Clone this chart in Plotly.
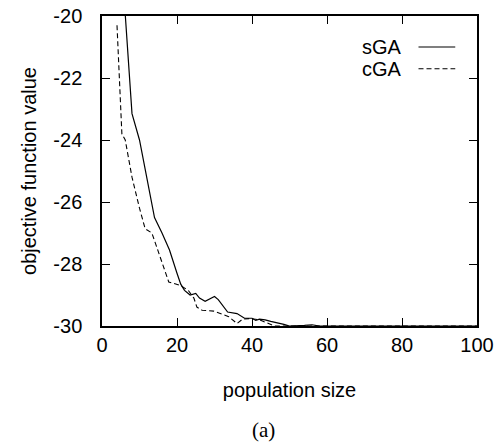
import plotly.graph_objects as go

# sGA (solid) estimated values
sga_x = [6, 8, 10, 12, 14, 16, 18, 20, 21, 22, 23.5, 25, 26, 27.5, 29, 30, 31, 32, 33.5, 36, 38, 40, 41, 42, 43.5, 45, 47, 48.5, 50, 52, 54, 56, 58, 60, 100]
sga_y = [-19.6, -23.15, -24.0, -25.3, -26.5, -27.0, -27.55, -28.3, -28.65, -28.85, -29.0, -28.95, -29.1, -29.2, -29.1, -29.05, -29.15, -29.3, -29.55, -29.6, -29.75, -29.75, -29.82, -29.78, -29.8, -29.85, -29.9, -29.95, -30, -30, -29.98, -29.96, -30, -30, -30]

# cGA (dashed) estimated values
cga_x = [4, 5.3, 6.2, 8, 10, 11.5, 13.3, 15, 17.8, 19, 21, 23, 24.5, 25.3, 26.7, 29.8, 31.5, 33.8, 36, 37.5, 39.5, 42, 44, 46, 100]
cga_y = [-20.3, -23.8, -24.0, -25.2, -26.2, -26.86, -27.0, -27.6, -28.58, -28.62, -28.7, -28.85, -29.1, -29.39, -29.49, -29.52, -29.6, -29.7, -29.92, -29.78, -29.76, -29.8, -29.9, -30, -30]

x_ticks = [0, 20, 40, 60, 80, 100]
y_ticks = [-30, -28, -26, -24, -22, -20]

font_sans = "Liberation Sans, Arial, sans-serif"

fig = go.Figure()
fig.add_trace(go.Scatter(x=sga_x, y=sga_y, mode="lines", name="sGA",
                         line=dict(color="black", width=1.2)))
fig.add_trace(go.Scatter(x=cga_x, y=cga_y, mode="lines", name="cGA",
                         line=dict(color="black", width=1.1, dash="5px,3px")))

axis_common = dict(showgrid=False, zeroline=False, showline=True, linecolor="black",
                   linewidth=1.5, mirror="ticks", ticks="inside", ticklen=8,
                   tickcolor="black", tickwidth=1.2, automargin=False,
                   ticklabeloverflow="allow",
                   tickfont=dict(family=font_sans, size=20, color="black"))

fig.update_xaxes(range=[0, 100], tickvals=x_ticks, ticktext=[str(v) for v in x_ticks],
                 title=dict(text="population size", font=dict(family=font_sans, size=20, color="black"), standoff=28),
                 ticklabelstandoff=0, **axis_common)
fig.update_yaxes(range=[-30, -20], tickvals=y_ticks, ticktext=[str(v) for v in y_ticks],
                 title=dict(text="objective function value", font=dict(family=font_sans, size=20, color="black"), standoff=11),
                 ticklabelstandoff=14, **axis_common)

# legend drawn as text + sample lines (text left, sample right, as in the reference)
fig.add_annotation(xref="paper", yref="paper", x=0.804, y=0.900, text="sGA", showarrow=False,
                   xanchor="right", yanchor="middle", font=dict(family=font_sans, size=20, color="black"))
fig.add_annotation(xref="paper", yref="paper", x=0.804, y=0.830, text="cGA", showarrow=False,
                   xanchor="right", yanchor="middle", font=dict(family=font_sans, size=20, color="black"))
fig.add_shape(type="line", xref="paper", yref="paper", x0=0.844, x1=0.942, y0=0.900, y1=0.900,
              line=dict(color="black", width=1.2))
fig.add_shape(type="line", xref="paper", yref="paper", x0=0.844, x1=0.942, y0=0.830, y1=0.830,
              line=dict(color="black", width=1.1, dash="5px,3px"))

fig.add_annotation(xref="paper", yref="paper", x=0.43, y=-0.335, text="(a)", showarrow=False,
                   xanchor="center", yanchor="middle",
                   font=dict(family="Liberation Serif, Times New Roman, serif", size=21, color="black"))

fig.update_layout(width=496, height=443, showlegend=False,
                  margin=dict(l=102, r=19, t=16, b=117, autoexpand=False),
                  paper_bgcolor="white", plot_bgcolor="white")

fig.write_html("out.html", config={"displayModeBar": False},
               post_script="document.body.style.margin='0px';")
